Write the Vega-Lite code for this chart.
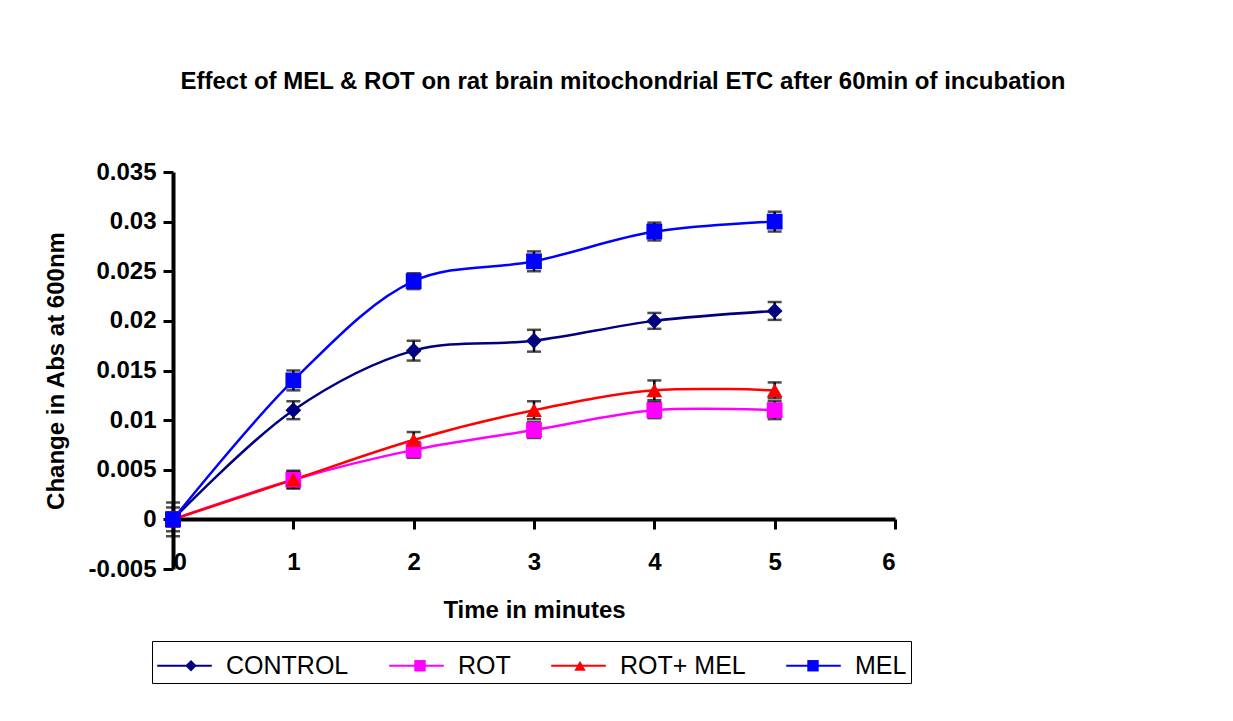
{
  "$schema": "https://vega.github.io/schema/vega-lite/v6.json",
  "width": 722,
  "height": 397,
  "autosize": "none",
  "padding": {"left": 173, "top": 172, "right": 338, "bottom": 152},
  "background": "white",
  "title": {
    "text": "Effect of MEL & ROT on rat brain mitochondrial ETC after 60min of incubation",
    "font": "Liberation Sans",
    "fontSize": 24,
    "fontWeight": "bold",
    "color": "black",
    "anchor": "middle",
    "frame": "group",
    "dx": 89,
    "offset": 66
  },
  "config": {
    "view": {"stroke": null},
    "font": "Liberation Sans",
    "axis": {
      "grid": false,
      "domainColor": "black",
      "domainWidth": 4,
      "tickColor": "black",
      "tickWidth": 3,
      "labelFont": "Liberation Sans",
      "labelFontWeight": "bold",
      "labelFontSize": 24,
      "labelColor": "black",
      "titleFont": "Liberation Sans",
      "titleFontWeight": "bold",
      "titleFontSize": 24,
      "titleColor": "black"
    }
  },
  "data": {
    "values": [
      {"series": "CONTROL", "t": 0, "v": 0, "e": 0.0017},
      {"series": "CONTROL", "t": 1, "v": 0.011, "e": 0.0009},
      {"series": "CONTROL", "t": 2, "v": 0.017, "e": 0.001},
      {"series": "CONTROL", "t": 3, "v": 0.018, "e": 0.0011},
      {"series": "CONTROL", "t": 4, "v": 0.02, "e": 0.0008},
      {"series": "CONTROL", "t": 5, "v": 0.021, "e": 0.0009},
      {"series": "ROT", "t": 0, "v": 0, "e": 0.0007},
      {"series": "ROT", "t": 1, "v": 0.004, "e": 0.0009},
      {"series": "ROT", "t": 2, "v": 0.007, "e": 0.0008},
      {"series": "ROT", "t": 3, "v": 0.009, "e": 0.0008},
      {"series": "ROT", "t": 4, "v": 0.011, "e": 0.0008},
      {"series": "ROT", "t": 5, "v": 0.011, "e": 0.0009},
      {"series": "ROT+ MEL", "t": 0, "v": 0, "e": 0.0007},
      {"series": "ROT+ MEL", "t": 1, "v": 0.004, "e": 0.0008},
      {"series": "ROT+ MEL", "t": 2, "v": 0.008, "e": 0.0008},
      {"series": "ROT+ MEL", "t": 3, "v": 0.011, "e": 0.0009},
      {"series": "ROT+ MEL", "t": 4, "v": 0.013, "e": 0.001},
      {"series": "ROT+ MEL", "t": 5, "v": 0.013, "e": 0.0008},
      {"series": "MEL", "t": 0, "v": 0, "e": 0.0012},
      {"series": "MEL", "t": 1, "v": 0.014, "e": 0.001},
      {"series": "MEL", "t": 2, "v": 0.024, "e": 0.0008},
      {"series": "MEL", "t": 3, "v": 0.026, "e": 0.001},
      {"series": "MEL", "t": 4, "v": 0.029, "e": 0.0009},
      {"series": "MEL", "t": 5, "v": 0.03, "e": 0.001}
    ]
  },
  "encoding": {
    "x": {
      "field": "t",
      "type": "quantitative",
      "scale": {"domain": [0, 6], "nice": false, "zero": false},
      "axis": {
        "orient": "bottom",
        "offset": -50,
        "values": [0, 1, 2, 3, 4, 5, 6],
        "format": "d",
        "tickSize": 10,
        "labelPadding": 21,
        "title": "Time in minutes",
        "titlePadding": 24
      }
    },
    "y": {
      "field": "v",
      "type": "quantitative",
      "scale": {"domain": [-0.005, 0.035], "nice": false, "zero": false},
      "axis": {
        "values": [-0.005, 0, 0.005, 0.01, 0.015, 0.02, 0.025, 0.03, 0.035],
        "labelExpr": "'' + datum.value",
        "tickSize": 10,
        "labelPadding": 7,
        "title": "Change in Abs at 600nm",
        "titlePadding": 19
      }
    }
  },
  "layer": [
    {
      "mark": {"type": "errorbar", "ticks": {"size": 14, "thickness": 2.5}, "color": "black", "thickness": 2.5},
      "encoding": {
        "yError": {"field": "e"},
        "detail": {"field": "series"}
      }
    },
    {
      "mark": {"type": "line", "interpolate": "catmull-rom", "strokeWidth": 2.5},
      "encoding": {
        "stroke": {
          "field": "series",
          "type": "nominal",
          "scale": {"domain": ["CONTROL", "ROT", "ROT+ MEL", "MEL"], "range": ["#000080", "#FF00FF", "#FF0000", "#0000FF"]},
          "legend": {
            "orient": "none",
            "legendX": -21,
            "legendY": 469,
            "direction": "horizontal",
            "columns": 4,
            "title": null,
            "strokeColor": "black",
            "padding": 4,
            "columnPadding": 36,
            "symbolType": "M-1.4,0H1.4",
            "symbolSize": 1521,
            "symbolOffset": 8,
            "symbolStrokeWidth": 2,
            "labelOffset": 21,
            "labelFont": "Liberation Sans",
            "labelFontSize": 25,
            "labelColor": "black"
          }
        }
      }
    },
    {
      "mark": {"type": "point", "filled": true, "opacity": 1, "size": 250, "strokeWidth": 0},
      "encoding": {
        "fill": {
          "field": "series",
          "type": "nominal",
          "scale": {"domain": ["CONTROL", "ROT", "ROT+ MEL", "MEL", "~"], "range": ["#000080", "#FF00FF", "#FF0000", "#0000FF", "#000000"]},
          "legend": {
            "orient": "none",
            "legendX": -21,
            "legendY": 477,
            "direction": "horizontal",
            "columns": 4,
            "values": ["CONTROL", "ROT", "ROT+ MEL", "MEL"],
            "title": null,
            "padding": 4,
            "columnPadding": 36,
            "symbolSize": 130,
            "symbolOffset": 22.5,
            "symbolStrokeWidth": 0,
            "labelOffset": 23,
            "labelFont": "Liberation Sans",
            "labelFontSize": 25,
            "labelOpacity": 0
          }
        },
        "shape": {
          "field": "series",
          "type": "nominal",
          "scale": {"domain": ["CONTROL", "ROT", "ROT+ MEL", "MEL", "~"], "range": ["diamond", "square", "triangle-up", "square", "circle"]},
          "legend": {
            "orient": "none",
            "legendX": -21,
            "legendY": 477,
            "direction": "horizontal",
            "columns": 4,
            "values": ["CONTROL", "ROT", "ROT+ MEL", "MEL"],
            "title": null,
            "padding": 4,
            "columnPadding": 36,
            "symbolSize": 130,
            "symbolOffset": 22.5,
            "symbolStrokeWidth": 0,
            "labelOffset": 23,
            "labelFont": "Liberation Sans",
            "labelFontSize": 25,
            "labelOpacity": 0
          }
        }
      }
    }
  ]
}
